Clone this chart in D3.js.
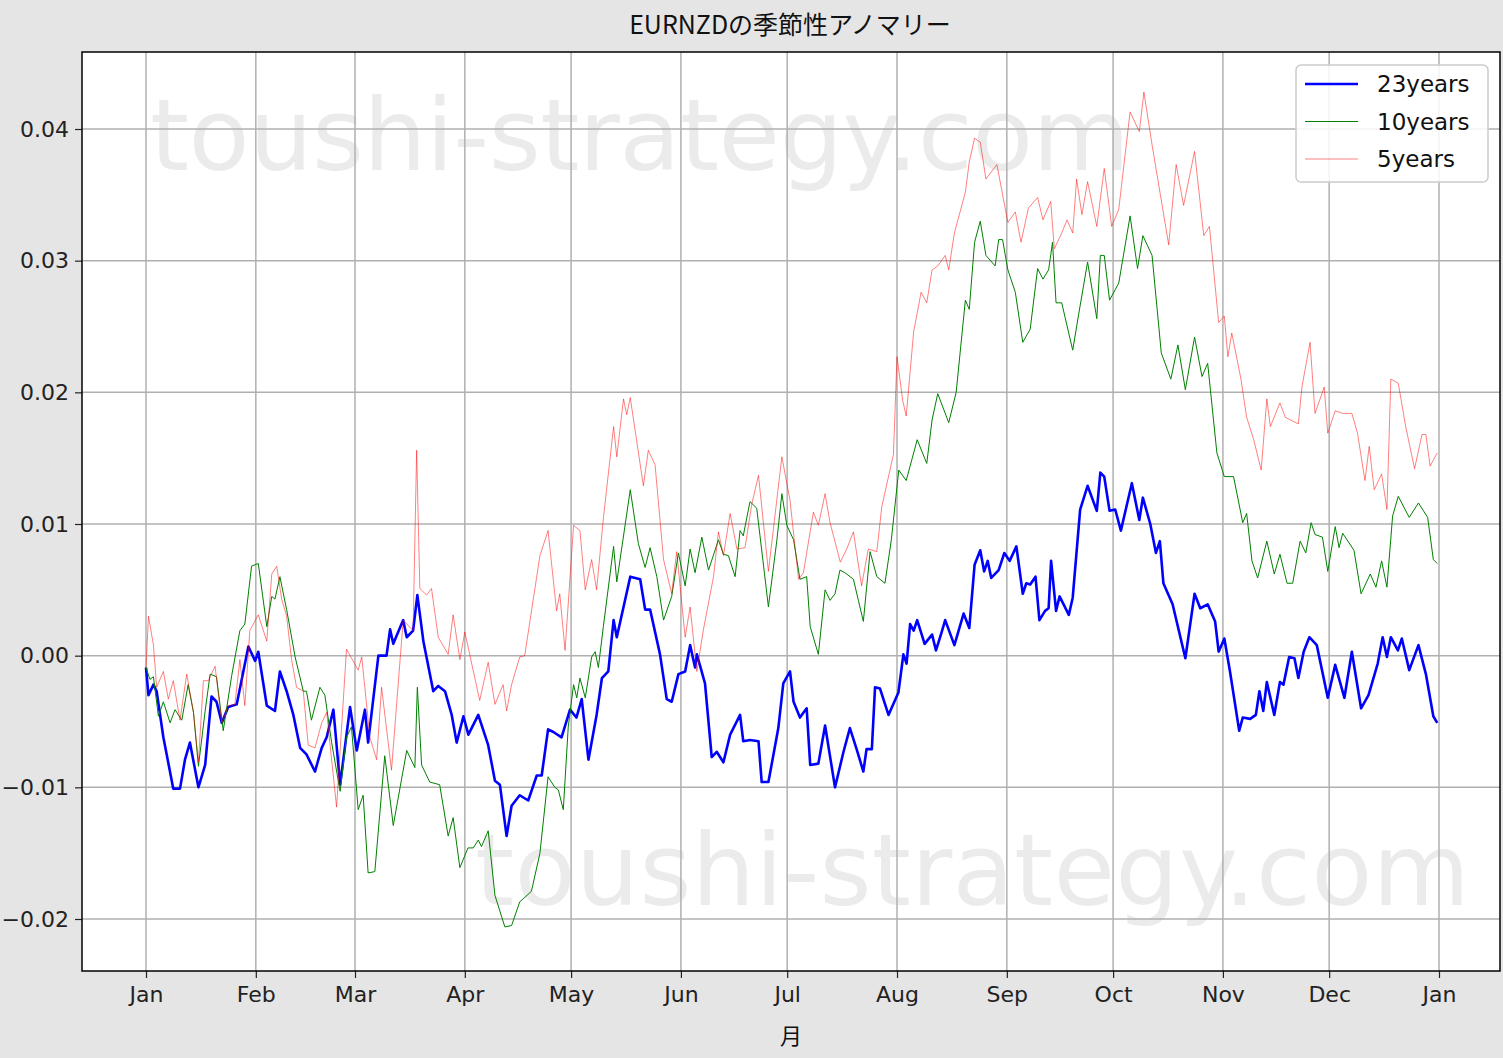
<!DOCTYPE html>
<html><head><meta charset="utf-8">
<script src="https://cdn.jsdelivr.net/npm/d3@7"></script>
<style>body{margin:0;background:#e5e5e5;}svg{display:block;}</style>
</head><body><svg id="c" width="1503" height="1058"></svg>
<script>
const title = "EURNZDの季節性アノマリー";
const xLabel = "月";
const monthLabels = ["Jan","Feb","Mar","Apr","May","Jun","Jul","Aug","Sep","Oct","Nov","Dec","Jan"];
const monthStartDays = [0,31,59,90,120,151,181,212,243,273,304,334,365];
const yTicks = [-0.02,-0.01,0.00,0.01,0.02,0.03,0.04];
const seriesNames = ["23years","10years","5years"];
const UNIT = 0.001; // values below are in thousandths
// [day of year, value in thousandths]
const years23 = [[0,-0.9],[0.7,-3.0],[2.1,-2.2],[3,-2.7],[4.9,-6.2],[7.7,-10.1],[9.6,-10.1],[11,-7.9],[12.4,-6.6],[14.8,-10],[16.7,-8.3],[18.5,-3.1],[19.9,-3.5],[21.4,-5.1],[23.2,-3.9],[25.6,-3.7],[28.9,0.7],[30.8,-0.4],[31.7,0.3],[34.1,-3.8],[36.4,-4.2],[37.8,-1.2],[39.7,-2.7],[41.6,-4.5],[43.5,-7],[45.3,-7.5],[47.7,-8.8],[49.6,-7],[51,-6.2],[52.9,-4.1],[54.8,-9.8],[57.6,-3.9],[59.5,-7.2],[61.8,-4.1],[62.7,-6.6],[65.6,0],[67.9,0],[68.9,2],[69.8,0.9],[72.6,2.7],[73.6,1.4],[75.4,1.9],[76.6,4.6],[78.3,1.1],[81.1,-2.7],[82.5,-2.3],[84.4,-2.7],[86.3,-4.5],[87.7,-6.6],[89.6,-4.6],[91,-6],[93.8,-4.5],[96.6,-6.8],[98.5,-9.5],[99.9,-9.8],[101.8,-13.7],[103.2,-11.4],[105.5,-10.6],[107.9,-11],[110.3,-9.1],[111.7,-9.1],[113.5,-5.6],[115,-5.8],[117.3,-6.2],[119.7,-4.1],[121.5,-4.7],[123,-3.3],[124.9,-7.9],[127.2,-4.5],[128.7,-1.7],[130.5,-1.2],[132,2.7],[132.9,1.4],[136.7,6],[139.5,5.8],[140.9,3.5],[142.3,3.5],[145.1,0.1],[147,-3.3],[148.4,-3.5],[150.3,-1.4],[152.2,-1.2],[153.6,0.8],[155,-0.9],[155.5,0.1],[157.8,-2.1],[159.7,-7.7],[161.1,-7.3],[163,-8.1],[164.9,-6],[167.7,-4.5],[168.6,-6.5],[170.5,-6.4],[172.9,-6.5],[173.8,-9.6],[175.7,-9.6],[178.5,-5.5],[179.9,-2.1],[181.8,-1.2],[182.8,-3.5],[184.6,-4.7],[186.5,-4],[187.5,-8.3],[189.8,-8.2],[191.7,-5.3],[194.5,-10],[196.9,-7.3],[198.7,-5.5],[200.6,-7.1],[202.5,-8.8],[203.4,-7.1],[204.9,-7.1],[205.8,-2.4],[207.2,-2.5],[209.6,-4.5],[212.4,-2.8],[213.8,0.1],[214.7,-0.6],[215.7,2.4],[216.7,1.9],[217.7,2.7],[219.8,0.9],[221.9,1.6],[223,0.4],[224.5,1.7],[225.6,2.7],[228.2,0.8],[230.8,3.2],[232.4,2.1],[233.9,6.9],[235.5,8],[236.6,6.4],[237.6,7.2],[238.6,5.9],[240.7,6.5],[242.3,7.8],[243.8,7.2],[245.7,8.3],[247.5,4.7],[248.5,5.5],[249.6,5.4],[251.1,6],[252.2,2.7],[253.8,3.4],[254.8,3.6],[255.5,7.2],[256.9,3.4],[257.9,4.5],[260.5,3.1],[261.6,4.4],[263.7,11.1],[265.8,12.9],[268.4,11],[269.4,13.9],[270.5,13.6],[272,11],[273.6,11.1],[275.2,9.5],[278.3,13.1],[280.4,10.3],[281.4,12],[283.5,10],[285.1,7.8],[286.2,8.7],[287.2,5.5],[289.8,3.9],[291.3,2.2],[293.4,-0.2],[296,4.7],[297.6,3.6],[299.7,3.9],[301.8,2.6],[302.8,0.3],[304.4,1.3],[306,-1.2],[308.6,-5.7],[309.6,-4.7],[311.7,-4.8],[313.3,-4.5],[314.3,-2.7],[315.4,-4.2],[316.4,-2],[318.5,-4.5],[320.1,-2],[321.1,-2.2],[322.7,-0.1],[324.2,-0.2],[325.3,-1.7],[326.8,0.3],[328.4,1.4],[330.5,0.8],[333.6,-3.2],[335.7,-0.7],[338.3,-3.2],[340.4,0.3],[343,-4],[345.1,-3],[347.7,-0.6],[349.1,1.4],[350.3,-0.1],[351.4,1.4],[353.4,0.4],[354.5,1.3],[356.6,-1.1],[359.2,0.8],[361.3,-1.4],[363.4,-4.6],[364.5,-5.1]];
const years10 = [[0,-0.9],[1.1,-1.8],[2.1,-1.6],[3.5,-4.6],[4.9,-3.5],[6.8,-5.1],[8.2,-4.1],[10.1,-4.9],[11.9,-2.2],[13.4,-4.3],[14.8,-8.4],[16.7,-4.2],[18.1,-1.4],[19.9,-1.6],[21.8,-5.7],[24.2,-1.5],[26.5,1.9],[27.9,2.4],[29.8,6.8],[31.7,7],[34.1,2.2],[35.5,4.5],[36.4,4.3],[37.8,6],[39.7,3.5],[42.1,-0.1],[44.4,-2.7],[45.3,-2.7],[46.7,-4.9],[49.1,-2.4],[50.5,-3],[52.4,-6.6],[54.8,-10.3],[56.6,-6.2],[58,-5.4],[59.9,-11.7],[61.3,-10.6],[62.7,-16.5],[64.6,-16.4],[67.4,-7.6],[69.8,-12.9],[73.6,-7.2],[75.9,-8.5],[76.6,-2.4],[77.8,-8.3],[80.1,-9.6],[82.9,-9.8],[85.3,-13.7],[86.7,-12.3],[88.6,-16.1],[90.9,-14.6],[92.4,-14.6],[93.8,-14],[94.7,-14.5],[96.6,-13.3],[98.5,-18.2],[101.3,-20.6],[103.2,-20.5],[105.5,-18.7],[108.8,-17.9],[111.2,-15],[113.5,-9.2],[115.4,-10],[116.4,-10.2],[117.8,-11.7],[119.2,-5.4],[120.7,-2.2],[121.6,-3.2],[122.5,-1.7],[124,-3.2],[125.8,-0.1],[126.8,0.3],[127.7,-0.9],[129.1,2.2],[132,8.3],[132.9,5.6],[136.7,12.6],[139,8.5],[140.9,6.7],[142.3,8.2],[144.2,6],[146.1,2.7],[148.4,4.5],[150.3,7.8],[152.2,5.3],[153.6,8.1],[155,6.3],[156.9,9],[158.8,6.5],[161.6,8.8],[163,7.7],[164.4,7.6],[166.3,6],[167.7,9.5],[168.6,9.1],[170.5,11.7],[172.4,11.2],[175.7,3.7],[178.1,8.8],[179.5,12.3],[180.9,9.9],[182.8,8.8],[184.6,5.8],[186.5,6],[187.5,2.2],[189.8,0.1],[191.7,5],[193.1,4.2],[194.5,4.7],[195.9,6.5],[197.3,6.3],[199.7,5.8],[201.1,4.2],[202.5,2.6],[204.4,7.9],[206.3,6],[208.6,5.5],[210.4,8.8],[212.5,14.1],[214.6,13.3],[217.7,16.4],[220.4,14.6],[221.9,17.9],[223.5,19.9],[226.6,17.7],[228.7,20],[231.3,27],[232.4,26.3],[233.9,31.4],[235.5,33],[237.1,30.4],[239.7,29.6],[240.7,31.6],[241.8,31.6],[243.3,29.3],[245.4,27.6],[247.5,23.8],[249.6,24.8],[251.7,29.4],[253.2,28.6],[254.8,29.3],[255.9,31.4],[256.9,26.8],[258.5,26.8],[261.6,23.2],[263.2,25.8],[265.8,29.9],[268.4,25.6],[269.4,30.4],[270.5,30.4],[272,27],[274.6,28.3],[277.8,33.4],[279.9,29.4],[281.4,31.9],[284,30.4],[286.6,23],[289.3,21],[291.3,23.6],[293.4,20.2],[296,24.2],[298.1,21.2],[299.7,22.2],[302.3,15.4],[304.4,13.6],[307,13.6],[309.6,10.1],[310.7,10.8],[312.2,7.2],[313.8,5.9],[316.4,8.7],[318.5,6.2],[320.1,7.7],[322.1,5.5],[323.7,5.5],[325.8,8.7],[327.4,7.8],[328.9,10.1],[330,9.2],[332.1,9],[333.6,6.4],[335.7,9.8],[336.8,8.2],[337.8,9.3],[341,8],[343,4.7],[345.6,6.2],[347.2,5.2],[348.8,7.2],[350.3,5.2],[351.9,10.6],[353.5,12.1],[356.6,10.5],[359.2,11.6],[361.8,10.5],[363.4,7.3],[364.5,7.0]];
const years5 = [[0,-0.9],[0.7,3],[2.1,0.8],[3,-2.4],[4.9,-1.2],[6.3,-3.3],[7.7,-1.9],[9.6,-4.9],[11.5,-1.4],[13.4,-4.3],[14.8,-8.1],[16.2,-1.9],[17.6,-1.9],[19.5,-0.8],[21.4,-5.1],[23.2,-3.8],[25.1,-3.7],[26.5,-0.3],[27.9,-3.8],[29.3,1.9],[31.7,3.1],[34.1,1.1],[35.5,6.2],[36.9,6.8],[38.3,4.3],[39.7,3],[41.1,-0.3],[42.5,-2.4],[44.4,-2.7],[45.8,-6.8],[47.7,-7],[49.6,-5.1],[51,-4.3],[53.8,-11.5],[56.6,0.5],[59.9,-1.1],[60.9,-0.1],[63.2,-6.2],[65.1,-7.9],[66.5,-2.4],[69.3,-8.7],[72.6,2.7],[75.4,1.9],[76.4,15.6],[77.3,5.1],[79.2,4.6],[80.6,5.1],[82.5,1.4],[85.3,0.1],[86.7,3.1],[88.6,-0.3],[90,1.8],[94.2,-3.4],[96.6,-0.5],[98.5,-3.7],[100.8,-2.2],[101.8,-4.2],[103.2,-2.2],[105.5,-0.1],[106.9,0],[111.2,7.6],[113.5,9.5],[115.9,3.4],[116.8,4.7],[118.3,0.4],[120.7,9.9],[122.5,9.5],[124,5],[125.8,7.3],[127.2,5],[129.1,10.4],[132,17.4],[132.9,15.1],[134.8,19.5],[135.7,18.3],[136.7,19.6],[140.4,12.9],[141.8,15.6],[143.7,14.5],[146.1,7.3],[148.4,4.7],[149.8,7.9],[152.2,1.4],[153.6,3.7],[155.5,-1.2],[157.3,1.9],[160.2,6],[161.6,9.4],[163,7.6],[164.9,10.8],[166.8,8.1],[169.1,8.2],[171,11.5],[172.9,13.7],[175.7,6.4],[179.5,15.1],[181.8,11.8],[184.2,5.8],[185.6,6.3],[186.5,7.8],[188.4,10.9],[189.8,9.9],[191.7,12.3],[193.1,10.1],[196,7.1],[197.8,8.1],[199.7,9.4],[202,5.3],[203.9,8.1],[206.3,7.9],[207.7,11.3],[211,15.3],[212,22.7],[213.6,19.4],[214.6,18.2],[216.7,24.6],[218.8,27.6],[220.4,26.8],[221.9,29.3],[223.5,29.6],[225.6,30.4],[226.6,29.3],[228.2,32.1],[231.3,35.2],[232.4,37.5],[233.9,39.3],[235.5,39],[237.1,36.2],[240.2,37.3],[243.3,32.9],[245.4,33.7],[247,31.4],[249.1,34],[251.7,34.8],[253.2,33.1],[255.4,34.5],[256.4,30.9],[258.5,32.1],[260,33.1],[261.6,32.1],[262.7,36.2],[264.2,33.5],[265.8,36],[268.4,32.6],[270.5,37],[272.6,32.6],[274.6,33.9],[277.8,41.3],[280.4,39.8],[281.7,42.8],[284,38.8],[288.7,31.2],[290.8,37.3],[292.9,34.2],[296,38.3],[298.6,31.9],[300.2,32.6],[302.8,25.3],[304.4,25.8],[305.4,22.7],[306.5,24.5],[309.1,21],[310.7,18.1],[312.7,16.4],[314.8,14.1],[316.4,19.5],[317.4,17.4],[320.1,19.2],[321.6,18.1],[325.3,17.6],[326.3,20.4],[328.6,23.8],[330,18.4],[332.6,20.4],[333.6,16.9],[335.7,18.6],[337.8,18.4],[340.4,18.4],[342,16.9],[344.1,13.3],[345.3,15.9],[346.7,12.6],[348.8,13.8],[350.3,11.1],[351.4,21],[353.5,20.7],[355.6,17.4],[358.1,14.2],[360.2,16.8],[361.3,16.8],[362.5,14.4],[364.5,15.4]];
const seriesData = [years23, years10, years5];
const seriesColors = ["#0000ff","#008000","rgba(255,0,0,0.5)"];
const seriesWidths = [2.6, 1, 1];

const svg = d3.select("#c");
const L=82, R=1500, T=52, B=971;
const x = d3.scaleLinear().domain([0,365]).range([146,1439]);
const y = d3.scaleLinear().domain([-0.02,0.04]).range([919,129]);

svg.append("rect").attr("width",1503).attr("height",1058).attr("fill","#e5e5e5");
svg.append("rect").attr("x",L).attr("y",T).attr("width",R-L).attr("height",B-T).attr("fill","#fff");

// watermarks
const wm = svg.append("g").attr("fill","#000").attr("fill-opacity",0.08).attr("font-family","DejaVu Sans").attr("font-size",100);
wm.append("text").attr("x",150).attr("y",170).attr("textLength",980).text("toushi-strategy.com");
wm.append("text").attr("x",475).attr("y",905).attr("textLength",995).text("toushi-strategy.com");

// grid
const g = svg.append("g");
g.selectAll(".vx").data(monthStartDays).join("line").attr("x1",d=>x(d)).attr("x2",d=>x(d)).attr("y1",T).attr("y2",B).attr("stroke","#b0b0b0").attr("stroke-width",1.5);
g.selectAll(".hy").data(yTicks).join("line").attr("y1",d=>y(d)).attr("y2",d=>y(d)).attr("x1",L).attr("x2",R).attr("stroke","#b0b0b0").attr("stroke-width",1.5);

// axes
const xAxis = d3.axisBottom(x).tickValues(monthStartDays).tickFormat((d,i)=>monthLabels[i]).tickSizeOuter(0).tickSize(7).tickPadding(8);
const yAxis = d3.axisLeft(y).tickValues(yTicks).tickFormat(d3.format(".2f")).tickSizeOuter(0).tickSize(7).tickPadding(6);
const xa = svg.append("g").attr("transform",`translate(0,${B})`).call(xAxis);
const ya = svg.append("g").attr("transform",`translate(${L},0)`).call(yAxis);
[xa,ya].forEach(a=>{a.select(".domain").remove();a.selectAll("text").attr("font-family","DejaVu Sans").attr("font-size",22).attr("fill","#222");a.selectAll("line").attr("stroke","#222").attr("stroke-width",1.2);});

// lines
const line = d3.line().x(d=>x(d[0])).y(d=>y(d[1]*UNIT));
const clip = svg.append("clipPath").attr("id","cp").append("rect").attr("x",L).attr("y",T).attr("width",R-L).attr("height",B-T);
seriesData.forEach((s,i)=>{
  svg.append("path").datum(s).attr("d",line).attr("fill","none").attr("stroke",seriesColors[i]).attr("stroke-width",seriesWidths[i]).attr("stroke-linejoin","round").attr("clip-path","url(#cp)");
});

svg.append("rect").attr("x",L).attr("y",T).attr("width",R-L).attr("height",B-T).attr("fill","none").attr("stroke","#000").attr("stroke-width",1.5);

// title & label
svg.append("text").attr("x",790).attr("y",34).attr("text-anchor","middle").attr("font-family","Noto Sans CJK JP").attr("font-size",25).attr("fill","#111").text(title);
svg.append("text").attr("x",791).attr("y",1044).attr("text-anchor","middle").attr("font-family","Noto Sans CJK JP").attr("font-size",22).attr("fill","#111").text(xLabel);

// legend
const lg = svg.append("g");
lg.append("rect").attr("x",1296).attr("y",65).attr("width",192).attr("height",117).attr("rx",5).attr("fill","#fff").attr("fill-opacity",0.85).attr("stroke","#ccc").attr("stroke-width",1.5);
seriesNames.forEach((n,i)=>{
  const yy = 84 + i*37.5;
  lg.append("line").attr("x1",1305).attr("x2",1358).attr("y1",yy).attr("y2",yy).attr("stroke",seriesColors[i]).attr("stroke-width",seriesWidths[i]);
  lg.append("text").attr("x",1377).attr("y",yy+8).attr("font-family","DejaVu Sans").attr("font-size",23).attr("fill","#111").text(n);
});
</script></body></html>
